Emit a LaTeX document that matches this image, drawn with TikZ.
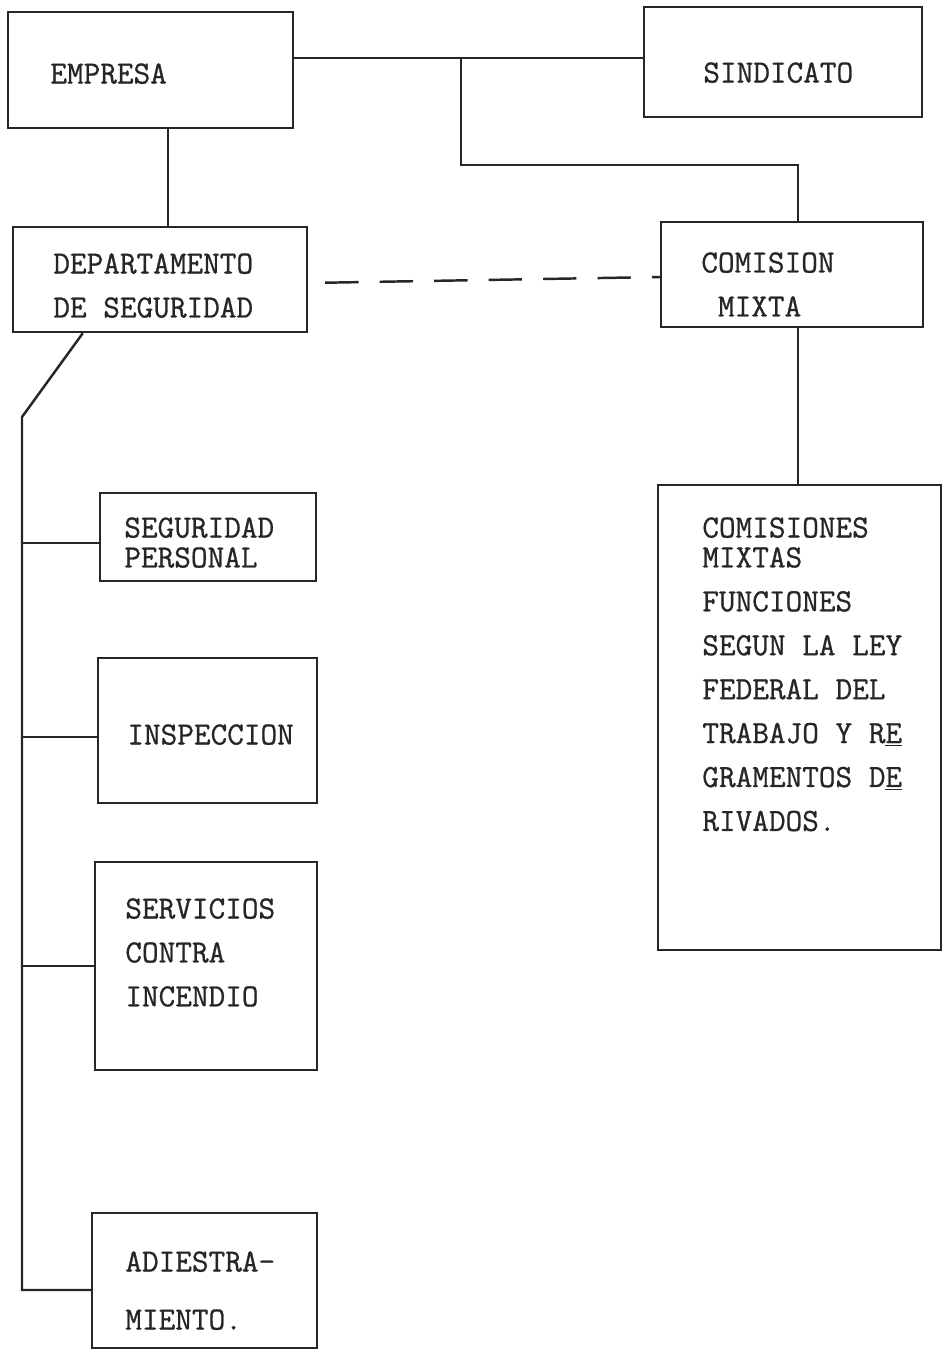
\documentclass[tikz,border=0pt]{standalone}
\usepackage{fontspec}
\setmonofont[FakeBold=0.8]{Latin Modern Mono}
\usetikzlibrary{calc,fit}

\begin{document}
\begin{tikzpicture}[
  x=0.02cm,y=-0.02cm,
  box/.style={draw=black!85,line width=1.4pt,inner sep=0pt},
  link/.style={draw=black!85,line width=1.4pt},
  dashlink/.style={link,dash pattern=on 19pt off 12pt},
  txt/.style={font=\fontsize{18.4}{25}\selectfont\ttfamily,text=black!85,anchor=north west,inner sep=0pt,align=left},
]
\useasboundingbox (0,0) rectangle (942,1352);
\node[box,fit={(8,12) (293,128)}] (empresa) {};
\node[box,fit={(644,7) (922,117)}] (sindicato) {};
\node[box,fit={(13,227) (307,332)}] (depto) {};
\node[box,fit={(661,222) (923,327)}] (comision) {};
\node[box,fit={(658,485) (941,950)}] (comisiones) {};
\node[box,fit={(100,493) (316,581)}] (segper) {};
\node[box,fit={(98,658) (317,803)}] (inspec) {};
\node[box,fit={(95,862) (317,1070)}] (servicios) {};
\node[box,fit={(92,1213) (317,1348)}] (adiestra) {};
\node[txt] (empresa-t) at (50,63) {EMPRESA};
\node[txt] (sindicato-t) at (703,62) {SINDICATO};
\node[txt] (depto-t) at (53,253) {DEPARTAMENTO\\DE SEGURIDAD};
\node[txt] (comision-t) at (701,252) {COMISION\\~MIXTA};
\node[txt] (comisiones-t) at (702,517) {COMISIONES\\[-8pt]MIXTAS\\FUNCIONES\\SEGUN LA LEY\\FEDERAL DEL\\TRABAJO Y R\underline{E}\\GRAMENTOS D\underline{E}\\RIVADOS.};
\node[txt] (segper-t) at (124,517) {SEGURIDAD\\[-8pt]PERSONAL};
\node[txt] (inspec-t) at (127,724) {INSPECCION};
\node[txt] (servicios-t) at (125,898) {SERVICIOS\\CONTRA\\INCENDIO};
\node[txt] (adiestra-t) at (125,1251) {ADIESTRA-\\[8pt]MIENTO.};
\coordinate (j) at (461,58);
\coordinate (k) at (798,165);
\coordinate (d) at (168,0);
\coordinate (a) at ($(depto.south west)+(71,0)$);
\coordinate (t) at (22,417);
\coordinate (sp) at ([yshift=-0.12cm]segper.west);
\coordinate (in) at ([yshift=-0.13cm]inspec.west);
\coordinate (ad) at ([yshift=-0.19cm]adiestra.west);
\draw[link] (empresa.east |- j) -- (sindicato.west |- j);
\draw[link] (j) |- (k) -- (k |- comision.north);
\draw[link] (empresa.south -| d) -- (depto.north -| d);
\draw[dashlink,shorten <=0.34cm] ([yshift=-0.07cm]depto.east) -- ([yshift=-0.05cm]comision.west);
\draw[link] (k |- comision.south) -- (k |- comisiones.north);
\draw[link] (a) -- (t) -- (t |- ad) -- (ad);
\draw[link] (t |- sp) -- (sp);
\draw[link] (t |- in) -- (in);
\draw[link] (t |- servicios.west) -- (servicios.west);
\end{tikzpicture}
\end{document}
